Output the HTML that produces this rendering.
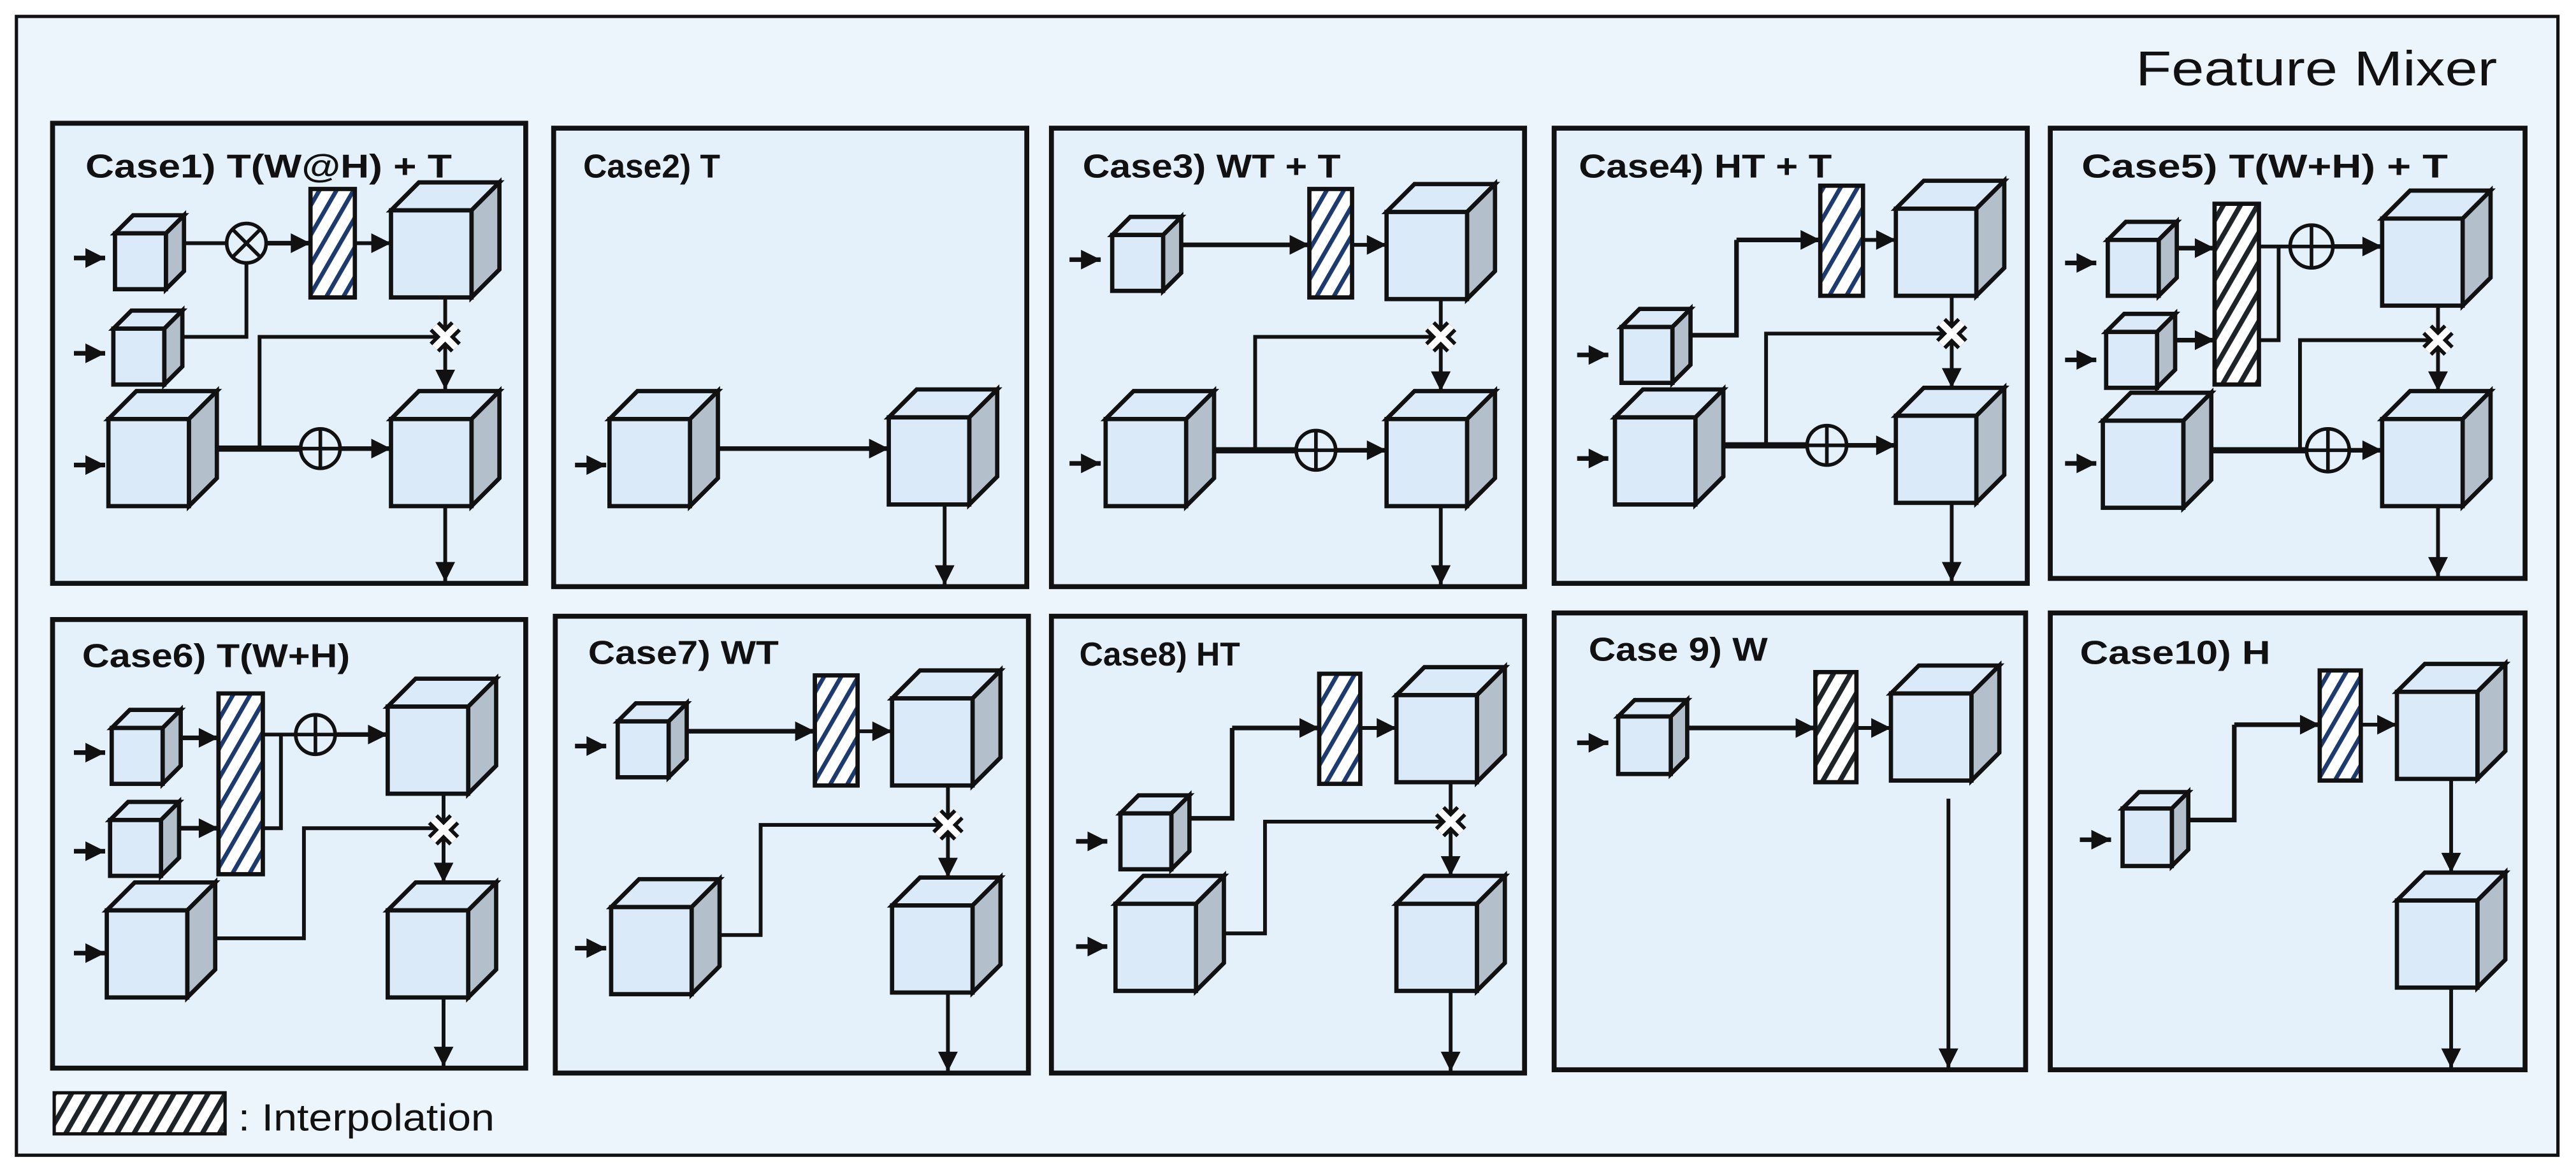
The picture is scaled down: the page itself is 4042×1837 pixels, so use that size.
<!DOCTYPE html>
<html><head><meta charset="utf-8">
<style>
html,body{margin:0;padding:0;background:#fff;}
svg{display:block;}
text{font-family:"Liberation Sans",Arial,sans-serif;}
.t{font-weight:bold;font-size:20px;fill:#111;}
</style></head><body>
<svg id="s" width="4042" height="1837" viewBox="0 0 1568 712.6" preserveAspectRatio="none" xmlns="http://www.w3.org/2000/svg">
<defs>
<pattern id="hn" patternUnits="userSpaceOnUse" width="9" height="9" patternTransform="rotate(30)">
<rect width="9" height="9" fill="#fff"/><rect x="0" y="0" width="2.6" height="9" fill="#1d3a6e"/></pattern>
<pattern id="hd" patternUnits="userSpaceOnUse" width="9" height="9" patternTransform="rotate(30)">
<rect width="9" height="9" fill="#fff"/><rect x="0" y="0" width="3" height="9" fill="#1e2328"/></pattern>
</defs>
<rect x="10" y="10" width="1547" height="693" fill="#edf5fc" stroke="#111" stroke-width="2"/>
<text x="1300" y="52" font-size="30" fill="#111" textLength="220" lengthAdjust="spacingAndGlyphs">Feature Mixer</text>
<g id="panels" fill="#e4f0fa" stroke="#111" stroke-width="3">
<rect x="32" y="75" width="288" height="280"/>
<rect x="337" y="78" width="288" height="279"/>
<rect x="640" y="78" width="288" height="279"/>
<rect x="946" y="78" width="288" height="277"/>
<rect x="1248" y="78" width="289" height="274"/>
<rect x="32" y="377" width="288" height="273"/>
<rect x="338" y="375" width="288" height="278"/>
<rect x="640" y="375" width="288" height="278"/>
<rect x="946" y="373" width="287" height="278"/>
<rect x="1248" y="373" width="289" height="278"/>
</g>
<text class="t" x="52" y="108" textLength="223" lengthAdjust="spacingAndGlyphs">Case1) T(W@H) + T</text>
<text class="t" x="355" y="108">Case2) T</text>
<text class="t" x="659" y="108" textLength="157" lengthAdjust="spacingAndGlyphs">Case3) WT + T</text>
<text class="t" x="961" y="108" textLength="154" lengthAdjust="spacingAndGlyphs">Case4) HT + T</text>
<text class="t" x="1267" y="108" textLength="223" lengthAdjust="spacingAndGlyphs">Case5) T(W+H) + T</text>
<text class="t" x="50" y="406" textLength="163" lengthAdjust="spacingAndGlyphs">Case6) T(W+H)</text>
<text class="t" x="358" y="404" textLength="116" lengthAdjust="spacingAndGlyphs">Case7) WT</text>
<text class="t" x="657" y="405">Case8) HT</text>
<text class="t" x="967" y="402" textLength="109" lengthAdjust="spacingAndGlyphs">Case 9) W</text>
<text class="t" x="1266" y="404" textLength="116" lengthAdjust="spacingAndGlyphs">Case10) H</text>
<rect x="33" y="665" width="104" height="25" fill="url(#hd)" stroke="#111" stroke-width="2"/>
<text x="145" y="688" font-size="23" fill="#111" textLength="156" lengthAdjust="spacingAndGlyphs">: Interpolation</text>
<g id="g"></g>
</svg>
<script>
var out=[];
function P(pts,w){out.push('<polyline points="'+pts.map(function(p){return p.join(',')}).join(' ')+'" fill="none" stroke="#111" stroke-width="'+(w||2.3)+'"/>');}
function head(x1,y1,x2,y2){var dx=x2-x1,dy=y2-y1,l=Math.hypot(dx,dy),ux=dx/l,uy=dy/l,L=12,W=6;
var bx=x2-ux*L,by=y2-uy*L;out.push('<polygon points="'+x2+','+y2+' '+(bx-uy*W)+','+(by+ux*W)+' '+(bx+uy*W)+','+(by-ux*W)+'" fill="#111"/>');}
function A(pts,w){P(pts,w);var n=pts.length;head(pts[n-2][0],pts[n-2][1],pts[n-1][0],pts[n-1][1]);}
function inA(x,y){A([[x,y],[x+19,y]],2.8);}
function cube(x,y,w,h,d){var fw=w-d;
out.push('<g stroke="#111" stroke-width="2.6" stroke-linejoin="miter">'+
'<polygon points="'+x+','+(y+d)+' '+(x+d)+','+y+' '+(x+w)+','+y+' '+(x+fw)+','+(y+d)+'" fill="#dbeaf8"/>'+
'<polygon points="'+(x+fw)+','+(y+d)+' '+(x+w)+','+y+' '+(x+w)+','+(y+h-d)+' '+(x+fw)+','+(y+h)+'" fill="#b3c0cc"/>'+
'<rect x="'+x+'" y="'+(y+d)+'" width="'+fw+'" height="'+(h-d)+'" fill="#dbeaf8"/></g>');}
function S(x,y){cube(x,y,42,45,11);}
function L(x,y){cube(x,y,66,70,17);}
function H(x1,y1,x2,y2,dark){out.push('<rect x="'+x1+'" y="'+y1+'" width="'+(x2-x1)+'" height="'+(y2-y1)+'" fill="url(#'+(dark?'hd':'hn')+')" stroke="#111" stroke-width="2.6"/>');}
function op(x,y,r){r=r||12;out.push('<circle cx="'+x+'" cy="'+y+'" r="'+r+'" fill="#e4f0fa" stroke="#111" stroke-width="2.2"/><path d="M'+(x-r)+' '+y+'H'+(x+r)+'M'+x+' '+(y-r)+'V'+(y+r)+'" stroke="#111" stroke-width="2.2"/>');}
function ot(x,y,r){r=r||12;var k=r*0.707;out.push('<circle cx="'+x+'" cy="'+y+'" r="'+r+'" fill="#e4f0fa" stroke="#111" stroke-width="2.2"/><path d="M'+(x-k)+' '+(y-k)+'L'+(x+k)+' '+(y+k)+'M'+(x+k)+' '+(y-k)+'L'+(x-k)+' '+(y+k)+'" stroke="#111" stroke-width="2.2"/>');}
function xm(x,y){var k=6.5;var d='M'+(x-k)+' '+(y-k)+'L'+(x+k)+' '+(y+k)+'M'+(x+k)+' '+(y-k)+'L'+(x-k)+' '+(y+k);
out.push('<path d="'+d+'" stroke="#111" stroke-width="8.5"/><path d="'+d+'" stroke="#fff" stroke-width="4"/>');}

// Case1
[157,215,283].forEach(function(y){inA(45,y)});
P([[111,148],[138,148]]);A([[162,148],[189,148]],2.8);A([[216,148],[238,148]]);
P([[111,205],[150,205],[150,160]]);
P([[133,273],[183,273]],3.8);A([[207,273],[238,273]],2.8);
P([[158,273],[158,205],[271,205]]);
A([[271,181],[271,237]]);A([[271,308],[271,354]]);
S(70,131);S(69,189);L(66,238);L(238,111);L(238,238);ot(150,148);H(189,115,216,181);op(195,273);xm(271,205);
// Case2
inA(350,283);A([[437,273],[541,273]],2.8);A([[575,307],[575,356]]);
L(371,238);L(541,237);
// Case3
inA(651,158);inA(651,282);
A([[719,149],[797,149]],2.8);A([[823,149],[844,149]]);
P([[739,274],[789,274]],3.8);A([[813,274],[844,274]],2.8);
P([[764,274],[764,205],[877,205]]);A([[877,181],[877,238]]);A([[877,307],[877,356]]);
S(677,132);L(673,238);L(844,112);L(844,238);H(797,115,823,181);op(801,274);xm(877,205);
// Case4
inA(960,216);inA(960,279);
P([[1029,204],[1057,204],[1057,146]],2.8);A([[1057,146],[1108,146]],2.8);A([[1134,146],[1154,146]]);
P([[1049,271],[1100,271]],3.8);A([[1124,271],[1154,271]],2.8);
P([[1075,271],[1075,203],[1188,203]]);A([[1188,180],[1188,236]]);A([[1188,306],[1188,354]]);
S(987,188);L(983,237);L(1154,110);L(1154,236);H(1108,113,1134,180);op(1112,271);xm(1188,203);
// Case5
inA(1257,160);inA(1257,219);inA(1257,282);
A([[1326,151],[1348,151]],2.8);A([[1325,207],[1348,207]],2.8);
P([[1375,150],[1394,150]]);A([[1420,150],[1450,150]],2.8);P([[1375,207],[1387,207],[1387,150]]);
P([[1346,274],[1404,274]],3.8);A([[1430,274],[1450,274]],2.8);
P([[1400,274],[1400,207],[1484,207]]);A([[1484,184],[1484,238]]);A([[1484,307],[1484,351]]);
S(1283,135);S(1282,191);L(1450,116);L(1280,239);L(1450,238);H(1348,124,1375,234,true);op(1407,150,13);op(1417,274,13);xm(1484,207);
// Case6
inA(45,458);inA(45,518);inA(45,580);
A([[110,449],[133,449]],2.8);A([[109,504],[133,504]],2.8);
P([[160,447],[180,447]]);A([[204,447],[236,447]],2.8);P([[160,504],[171,504],[171,447]]);
P([[130,571],[185,571],[185,504],[270,504]]);A([[270,481],[270,537]]);A([[270,606],[270,649]]);
S(68,432);S(67,488);L(236,413);L(65,537);L(236,537);H(133,422,160,532);op(192,447);xm(270,505);
// Case7
inA(350,454);inA(350,577);
A([[418,445],[496,445]],2.8);A([[522,445],[543,445]]);
P([[438,569],[463,569],[463,502],[577,502]]);A([[577,478],[577,534]]);A([[577,603],[577,652]]);
S(376,428);L(372,535);L(543,408);L(543,534);H(496,411,522,478);xm(577,502);
// Case8
inA(655,512);inA(655,576);
P([[722,498],[750,498],[750,443]],2.8);A([[750,443],[803,443]],2.8);A([[828,443],[850,443]]);
P([[744,568],[770,568],[770,500],[883,500]]);A([[883,477],[883,533]]);A([[883,602],[883,652]]);
S(682,484);L(679,533);L(850,406);L(850,533);H(803,410,828,477);xm(883,500);
// Case9
inA(960,452);
A([[1027,443],[1105,443]],2.8);A([[1130,443],[1151,443]]);A([[1186,486],[1186,650]]);
cube(985,426,42,45,10);L(1151,405);H(1105,409,1130,476,true);
// Case10
inA(1266,511);
P([[1331,499],[1360,499],[1360,441]],2.8);A([[1360,441],[1412,441]],2.8);A([[1437,441],[1459,441]]);
A([[1492,475],[1492,531]]);A([[1492,601],[1492,650]]);
cube(1292,482,40,45,10);L(1459,404);L(1459,531);H(1412,408,1437,475);
document.getElementById('g').innerHTML=out.join('');
</script>
</body></html>
